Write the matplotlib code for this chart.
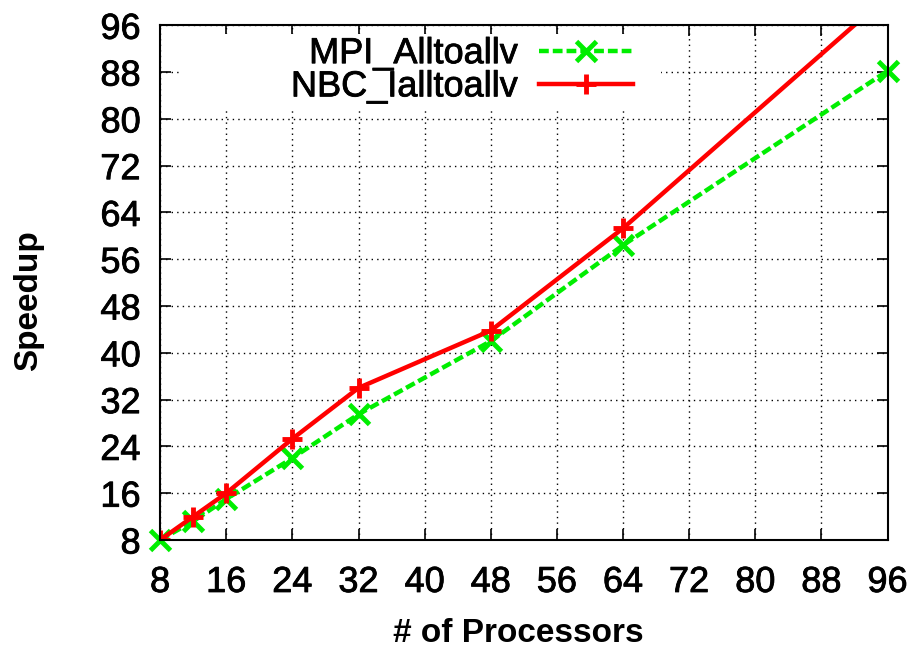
import numpy as np
import matplotlib
matplotlib.use("Agg")
import matplotlib.pyplot as plt
import matplotlib.patheffects as pe
from matplotlib.patches import Rectangle

# values
procs = [8, 12, 16, 24, 32, 48, 64, 96]
mpi_alltoallv = [8, 11.2, 15, 22, 29.5, 42, 58.4, 88.2]
nbc_ialltoallv = [8, 12, 16, 25.3, 34, 43.8, 61.3, 101]
ticks = list(range(8, 97, 8))

plt.rcParams['font.family'] = ['Liberation Sans', 'DejaVu Sans']
thick = [pe.withStroke(linewidth=0.6, foreground='black')]

fig = plt.figure(figsize=(9.15, 6.49), dpi=100)
ax = fig.add_axes([0.175, 0.168, 0.795, 0.793])

# white box behind the key, like gnuplot does
ax.add_patch(Rectangle((21 / 728, 1 - 85 / 515), 480 / 728, 76 / 515,
                       transform=ax.transAxes, facecolor='white',
                       edgecolor='none', zorder=2))

ax.plot(procs, mpi_alltoallv, color='#00ee00', linestyle=(0, (2.2, 0.9)), lw=3.2,
        marker='x', ms=15, mew=3.5, label='MPI_Alltoallv', clip_on=False, zorder=3)
ax.plot(procs, nbc_ialltoallv, color='#ff0000', linestyle='-', lw=3.2,
        marker='+', ms=15, mew=3.5, label='NBC_Ialltoallv', zorder=4)

ax.set_xlim(8, 96)
ax.set_ylim(8, 96)
ax.set_xticks(ticks)
ax.set_yticks(ticks)
ax.tick_params(direction='in', length=8, width=1.2, labelsize=26,
               top=True, right=True, pad=14)
ax.tick_params(axis='x', pad=18)
for lab in ax.get_xticklabels() + ax.get_yticklabels():
    lab.set_path_effects(thick)
ax.grid(True, color='black', linestyle=(0, (1, 3)), lw=1)
for s in ax.spines.values():
    s.set_linewidth(1.5)
    s.set_zorder(5)

ax.set_xlabel('# of Processors', fontsize=24, fontweight='bold')
ax.set_ylabel('Speedup', fontsize=24, fontweight='bold')
ax.xaxis.set_label_coords(0.492, -0.151)
ax.yaxis.set_label_coords(-0.16, 0.466)

leg = ax.legend(loc='upper right', bbox_to_anchor=(0.665, 1.0), fontsize=26,
                markerfirst=False, handlelength=2.6, handletextpad=0.6,
                labelspacing=-0.05, borderaxespad=0.1, borderpad=0.2,
                frameon=False)
leg.set_zorder(5)
for t in leg.get_texts():
    t.set_path_effects(thick)

fig.savefig('out.png', dpi=100)
